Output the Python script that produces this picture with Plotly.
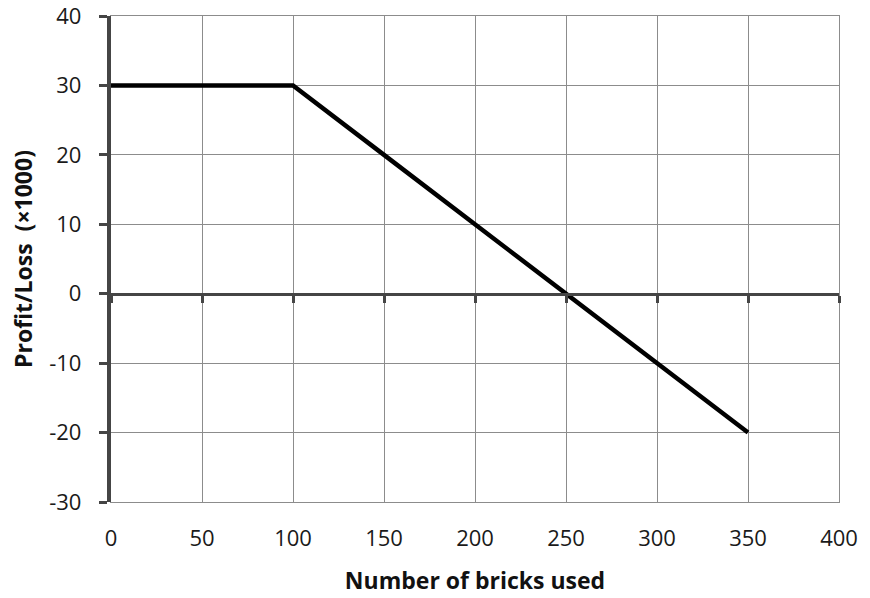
import plotly.graph_objects as go

bricks = [0, 50, 100, 150, 200, 250, 300, 350]
profit = [30, 30, 30, 20, 10, 0, -10, -20]
x_ticks = [0, 50, 100, 150, 200, 250, 300, 350, 400]
y_ticks = [-30, -20, -10, 0, 10, 20, 30, 40]
y_labels = [str(v) for v in y_ticks]

fig = go.Figure()
fig.add_trace(go.Scatter(x=bricks, y=profit, mode="lines",
                         line=dict(color="black", width=4.5), showlegend=False))
fig.add_trace(go.Scatter(x=bricks, y=profit, xaxis="x2", mode="lines",
                         line=dict(color="rgba(0,0,0,0)"), showlegend=False, hoverinfo="skip"))
fig.add_trace(go.Scatter(x=bricks, y=profit, yaxis="y2", mode="lines",
                         line=dict(color="rgba(0,0,0,0)"), showlegend=False, hoverinfo="skip"))

font = dict(family="Open Sans, Liberation Sans, sans-serif", size=22, color="#1a1a1a")
grid = "#8c8c8c"
dark = "#454545"
fig.update_layout(
    width=870, height=598,
    margin=dict(l=111, r=31, t=16, b=96, autoexpand=False),
    paper_bgcolor="white", plot_bgcolor="white",
    font=font,
    xaxis=dict(range=[0, 400], tickvals=x_ticks, showgrid=True, gridcolor=grid, gridwidth=1.4,
               zeroline=False, showline=True, linecolor=grid, linewidth=1.4, mirror=True,
               ticks="", ticklabelstandoff=16, automargin=False, ticklabeloverflow="allow",
               title=dict(text="<b>Number of bricks used</b>", standoff=22,
                          font=dict(size=23, color="#111"))),
    xaxis2=dict(range=[0, 400], tickvals=x_ticks, overlaying="x", anchor="free", position=3/7,
                showgrid=False, zeroline=False, showline=True, linecolor=dark, linewidth=3,
                ticks="outside", ticklen=7, tickwidth=3, tickcolor=dark, showticklabels=False,
                automargin=False),
    yaxis=dict(range=[-30, 40], tickvals=y_ticks, ticktext=y_labels, showgrid=True,
               gridcolor=grid, gridwidth=1.4,
               zeroline=False, showline=True, linecolor=grid, linewidth=1.4, mirror=True,
               ticks="", ticklabelstandoff=24, automargin=False, ticklabeloverflow="allow",
               title=dict(text="<b>Profit/Loss  (×1000)</b>", standoff=10,
                          font=dict(size=23, color="#111"))),
    yaxis2=dict(range=[-30, 40], overlaying="y", side="left", anchor="x",
                showgrid=False, zeroline=False, showline=True, linecolor=dark, linewidth=3.5,
                tickvals=y_ticks, ticks="outside", ticklen=8, tickwidth=3, tickcolor=dark,
                showticklabels=False, automargin=False),
)
fig.write_html("out.html", config={"displayModeBar": False},
               post_script="document.body.style.margin='0';document.body.style.overflow='hidden';")
